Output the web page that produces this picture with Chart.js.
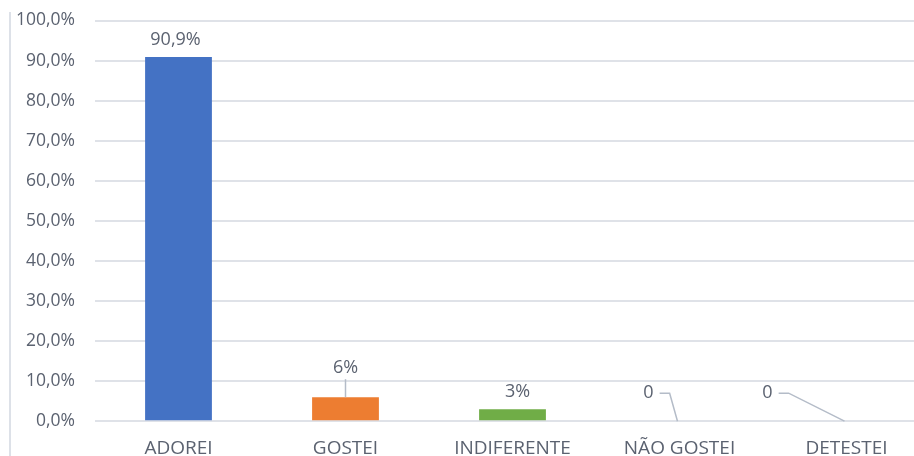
<!DOCTYPE html>
<html>
<head>
<meta charset="utf-8">
<script src="https://cdn.jsdelivr.net/npm/chart.js@4"></script>
<style>
  html, body { margin: 0; padding: 0; background: #fff; overflow: hidden; }
  #wrap { position: absolute; left: 0; top: -10px; width: 930px; height: 478px; }
  #edge { position: absolute; left: 9px; top: 12px; width: 2px; height: 460px; background: #dde1e8; }
</style>
</head>
<body>
<div id="edge"></div>
<div id="wrap"><canvas id="chart"></canvas></div>
<script>
// --- Data ---
const categories = ['ADOREI', 'GOSTEI', 'INDIFERENTE', 'NÃO GOSTEI', 'DETESTEI'];
const values = [90.9, 6, 3, 0, 0];
const valueLabels = ['90,9%', '6%', '3%', '0', '0'];
const barColors = ['#4472C4', '#ED7D31', '#70AD47', '#A5A5A5', '#FFC000'];

// label offsets relative to the bar top (pixels) and whether a leader line is drawn
const labelOffsets = [
    { dx: -3, dy: -17, leader: false },
    { dx: 0, dy: -29, leader: true },
    { dx: 5, dy: -17, leader: false },
    { dx: -31, dy: -28, leader: true },
    { dx: -79, dy: -28, leader: true }
];

const textColor = '#5b6270';
const gridColor = '#dfe2e8';
const fontFamily = "'Open Sans', 'Noto Sans', sans-serif";

// --- Data labels with leader lines ---
const labelPlugin = {
    id: 'valueLabels',
    afterDatasetsDraw(chart) {
        const ctx = chart.ctx;
        const meta = chart.getDatasetMeta(0);
        ctx.save();
        ctx.font = `18px ${fontFamily}`;
        ctx.fillStyle = textColor;
        ctx.textAlign = 'center';
        ctx.textBaseline = 'middle';
        meta.data.forEach((bar, i) => {
            const o = labelOffsets[i];
            const lx = bar.x + o.dx;
            const ly = bar.y + o.dy;
            ctx.fillText(valueLabels[i], lx, ly);
            if (o.leader) {
                ctx.strokeStyle = '#b4bcc8';
                ctx.lineWidth = 1.5;
                ctx.beginPath();
                if (o.dx === 0) {
                    ctx.moveTo(bar.x, ly + 11);
                    ctx.lineTo(bar.x, bar.y);
                } else {
                    const w = ctx.measureText(valueLabels[i]).width;
                    const sx = lx + w / 2 + 6;
                    ctx.moveTo(sx, ly);
                    ctx.lineTo(sx + 10, ly);
                    ctx.lineTo(bar.x - 2, bar.y);
                }
                ctx.stroke();
            }
        });
        ctx.restore();
    }
};

const ctx = document.getElementById('chart').getContext('2d');

function barFill(context) {
    const i = context.dataIndex;
    if (i !== 1) return barColors[i];
    const el = context.chart.getDatasetMeta(0).data[1];
    if (!el || !el.y) return barColors[i];
    const g = context.chart.ctx.createLinearGradient(0, el.y, 0, el.base);
    g.addColorStop(0, '#f08c4a');
    g.addColorStop(1, '#e86d1c');
    return g;
}

new Chart(ctx, {
    type: 'bar',
    data: {
        labels: categories,
        datasets: [{
            data: values,
            backgroundColor: barFill,
            barPercentage: 0.4,
            categoryPercentage: 1
        }]
    },
    options: {
        responsive: true,
        maintainAspectRatio: false,
        animation: false,
        layout: { padding: { top: 3, left: 0, right: 0, bottom: 0 } },
        plugins: { legend: { display: false }, tooltip: { enabled: false } },
        scales: {
            x: {
                grid: { display: false },
                border: { display: false },
                ticks: { color: textColor, font: { family: fontFamily, size: 19 }, padding: 8, maxRotation: 0 }
            },
            y: {
                min: 0, max: 100,
                afterFit(scale) { scale.width = 95; },
                grid: { color: gridColor, lineWidth: 2, drawTicks: false },
                border: { display: false },
                ticks: {
                    stepSize: 10,
                    padding: 20,
                    color: textColor,
                    font: { family: fontFamily, size: 17.5 },
                    callback: v => v.toFixed(1).replace('.', ',') + '%'
                }
            }
        }
    },
    plugins: [labelPlugin]
});
</script>
</body>
</html>
